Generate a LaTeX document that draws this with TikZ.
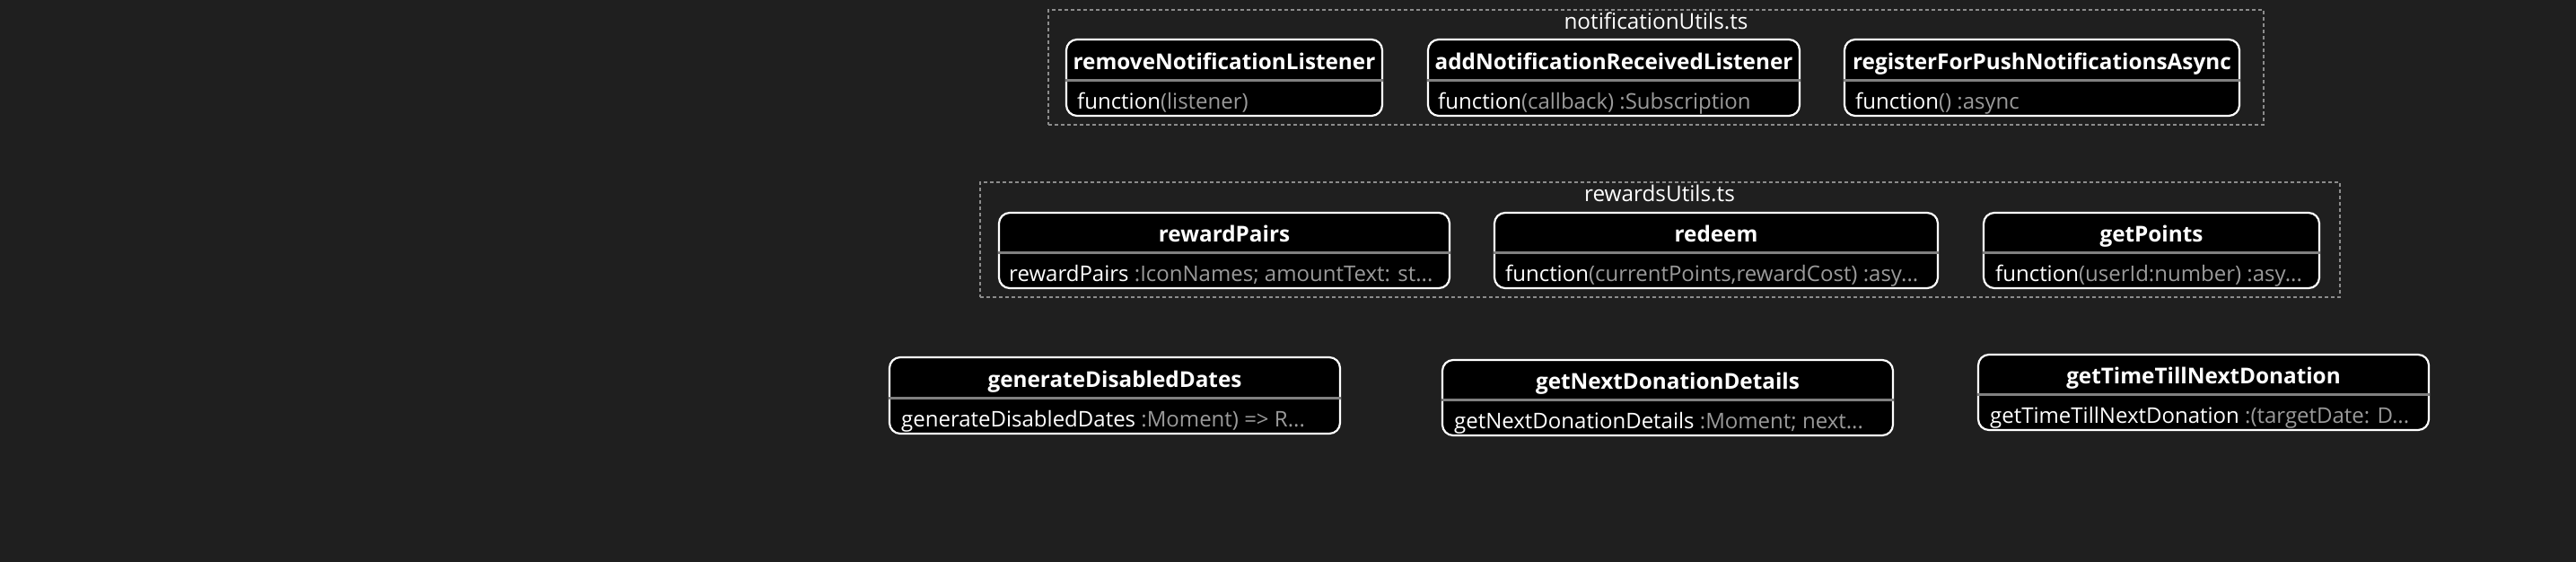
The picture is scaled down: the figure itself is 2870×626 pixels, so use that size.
\documentclass[tikz,border=0pt]{standalone}
\usepackage{fontspec}
\setmainfont{Open Sans}
\usetikzlibrary{fit}
\definecolor{bgc}{HTML}{1F1F1F}
\definecolor{dim}{HTML}{9A9A9A}
\definecolor{divc}{HTML}{808080}
\definecolor{grpc}{HTML}{8C8C8C}
\begin{document}
\begin{tikzpicture}[x=1pt,y=-1pt,
  fnbox/.style={draw=white, fill=black, line width=2.2pt, rounded corners=12pt, inner sep=0pt},
  grp/.style={draw=grpc, line width=1.5pt, dash pattern=on 4pt off 3pt, inner sep=0pt},
  divider/.style={draw=divc, line width=3pt},
  hdr/.style={text=white, font=\fontsize{24.3}{28}\selectfont\bfseries, anchor=mid, inner sep=0pt},
  body/.style={text=white, font=\fontsize{24}{28}\selectfont, anchor=mid west, inner sep=0pt},
  ttl/.style={text=white, font=\fontsize{24.3}{28}\selectfont, anchor=mid, inner sep=0pt}]
\fill[bgc] (0,0) rectangle (2870,626);
\useasboundingbox (0,0) rectangle (2870,626);

% notificationUtils.ts group
\node[grp, fit={(1168,11) (2522,139)}] (gnotif) {};
\node[ttl] (tnotif) at (1845,29.5) {notificationUtils.ts};

\node[fnbox, fit={(1188,44) (1540,129)}] (rnl) {};
\draw[divider] (rnl.west |- 0,89) -- (rnl.east |- 0,89);
\node[hdr] (rnlh) at (rnl.center |- 0,75) {removeNotificationListener};
\node[body] (rnlb) at (1200,118.5) {function\textcolor{dim}{(listener)}};

\node[fnbox, fit={(1591,44) (2005,129)}] (anrl) {};
\draw[divider] (anrl.west |- 0,89) -- (anrl.east |- 0,89);
\node[hdr] (anrlh) at (anrl.center |- 0,75) {addNotificationReceivedListener};
\node[body] (anrlb) at (1602,118.5) {function\textcolor{dim}{(callback) :Subscription}};

\node[fnbox, fit={(2055,44) (2495,129)}] (rfpn) {};
\draw[divider] (rfpn.west |- 0,89) -- (rfpn.east |- 0,89);
\node[hdr] (rfpnh) at (rfpn.center |- 0,75) {registerForPushNotificationsAsync};
\node[body] (rfpnb) at (2067,118.5) {function\textcolor{dim}{() :async}};

% rewardsUtils.ts group
\node[grp, fit={(1092,203) (2607,331)}] (grew) {};
\node[ttl] (trew) at (1849,221.5) {rewardsUtils.ts};

\node[fnbox, fit={(1113,237) (1615,321)}] (rp) {};
\draw[divider] (rp.west |- 0,281) -- (rp.east |- 0,281);
\node[hdr] (rph) at (rp.center |- 0,267) {rewardPairs};
\node[body] (rpb) at (1124,310.5) {rewardPairs \textcolor{dim}{:IconNames; amountText: st...}};

\node[fnbox, fit={(1665,237) (2159,321)}] (rd) {};
\draw[divider] (rd.west |- 0,281) -- (rd.east |- 0,281);
\node[hdr] (rdh) at (rd.center |- 0,267) {redeem};
\node[body] (rdb) at (1677,310.5) {function\textcolor{dim}{(currentPoints,rewardCost) :asy...}};

\node[fnbox, fit={(2210,237) (2584,321)}] (gp) {};
\draw[divider] (gp.west |- 0,281) -- (gp.east |- 0,281);
\node[hdr] (gph) at (gp.center |- 0,267) {getPoints};
\node[body] (gpb) at (2223,310.5) {function\textcolor{dim}{(userId:number) :asy...}};

% standalone functions
\node[fnbox, fit={(991,398) (1493,483)}] (gdd) {};
\draw[divider] (gdd.west |- 0,443) -- (gdd.east |- 0,443);
\node[hdr] (gddh) at (gdd.center |- 0,429) {generateDisabledDates};
\node[body] (gddb) at (1004,472.5) {generateDisabledDates \textcolor{dim}{:Moment) => R...}};

\node[fnbox, fit={(1607,401) (2109,485)}] (gndd) {};
\draw[divider] (gndd.west |- 0,445) -- (gndd.east |- 0,445);
\node[hdr] (gnddh) at (gndd.center |- 0,431) {getNextDonationDetails};
\node[body] (gnddb) at (1620,474.5) {getNextDonationDetails \textcolor{dim}{:Moment; next...}};

\node[fnbox, fit={(2204,395) (2706,479)}] (gttnd) {};
\draw[divider] (gttnd.west |- 0,439) -- (gttnd.east |- 0,439);
\node[hdr] (gttndh) at (gttnd.center |- 0,425) {getTimeTillNextDonation};
\node[body] (gttndb) at (2217,468.5) {getTimeTillNextDonation \textcolor{dim}{:(targetDate: D...}};
\end{tikzpicture}
\end{document}
